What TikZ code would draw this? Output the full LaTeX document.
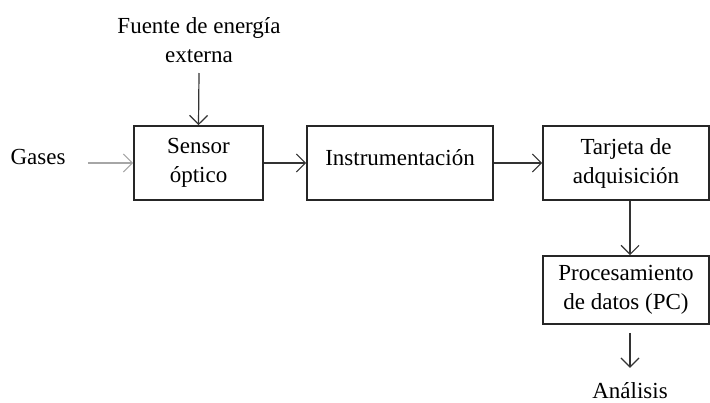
\documentclass[tikz,border=0pt]{standalone}
\usepackage{fontspec}
\setmainfont{Liberation Serif}
\usetikzlibrary{arrows.meta}
\tikzset{
  bloque/.style={draw=black!85,line width=0.8pt,minimum height=37pt,align=center,inner sep=0pt},
  texto/.style={align=center,inner sep=0pt},
  flecha/.style={draw=black!80,line width=0.6pt,-{Straight Barb[length=4.5pt,width=9pt]}},
}
\begin{document}
\begin{tikzpicture}[x=0.5pt,y=-0.5pt,font=\fontsize{11.5}{14.5}\selectfont]
\useasboundingbox (0,0) rectangle (710,402);
% bloques
\node[bloque,minimum width=64.5pt] (sensor) at (198.5,163) {Sensor\\óptico};
\node[bloque,minimum width=93pt] (instr) at (400,163) {\raisebox{6pt}{Instrumentación}};
\node[bloque,minimum width=83pt] (tarjeta) at (626,163) {Tarjeta de\\adquisición};
\node[bloque,minimum width=83pt,minimum height=34pt] (proc) at (626,290) {Procesamiento\\de datos (PC)};
% textos
\node[texto] (gases) at (38,157) {Gases};
\node[texto] (fuente) at (199,40) {Fuente de energía\\externa};
\node[texto,anchor=north] (ana) at (630,382) {Análisis};
% flechas
\draw[flecha,draw=black!35] (gases.east) ++(22,6) coordinate (g0) -- (sensor.west |- g0);
\draw[flecha] (199,73) coordinate (f0) -- (sensor.north);
\draw[flecha] (sensor) -- (instr);
\draw[flecha] (instr) -- (tarjeta);
\draw[flecha] ([xshift=2pt]tarjeta.south) -- ([xshift=2pt]proc.north);
\draw[flecha] ([xshift=2pt]proc.south) ++(0,8) -- ++(0,35);
\end{tikzpicture}
\end{document}
